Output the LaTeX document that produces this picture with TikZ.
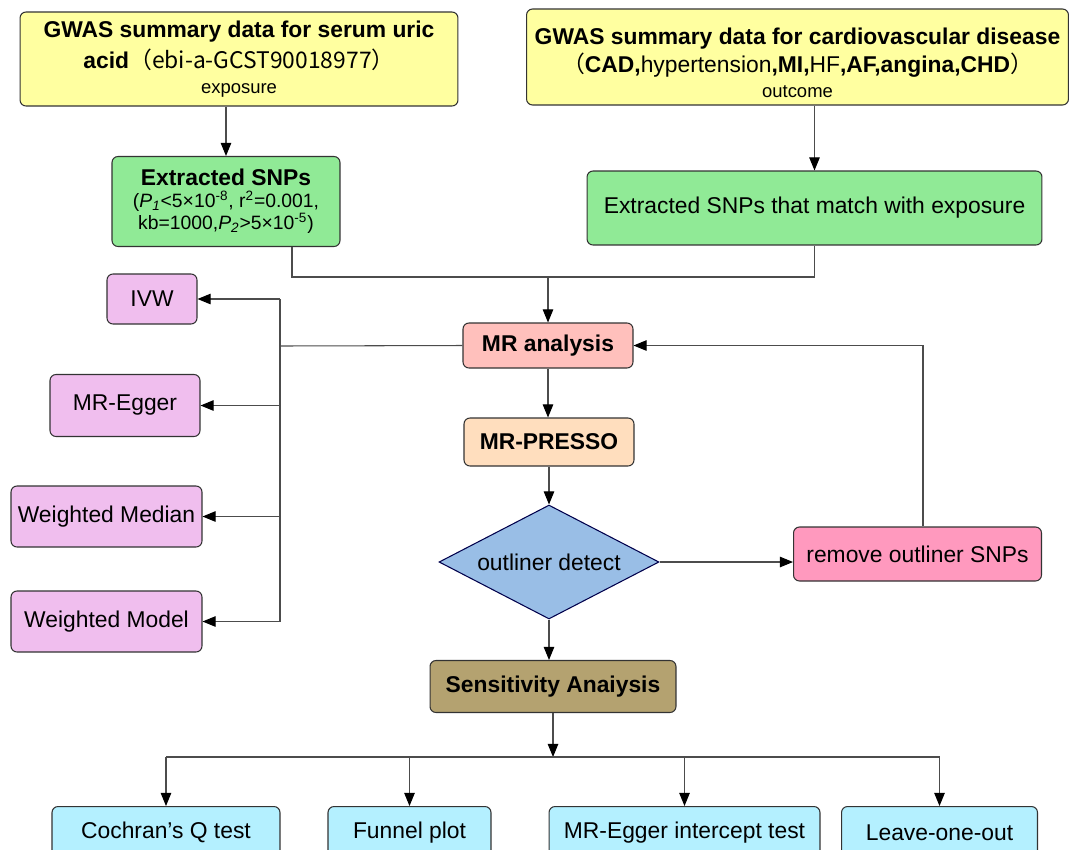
\documentclass[tikz,border=0pt]{standalone}
\usepackage{fontspec}
\setmainfont{Liberation Sans}
\newfontfamily\cjk{Noto Sans CJK SC}
\usetikzlibrary{arrows.meta, shapes.geometric}

\definecolor{gwasyellow}{RGB}{255,255,160}
\definecolor{snpgreen}{RGB}{144,234,150}
\definecolor{mrred}{RGB}{255,192,188}
\definecolor{pressoorange}{RGB}{255,222,190}
\definecolor{detectblue}{RGB}{153,190,230}
\definecolor{removepink}{RGB}{255,153,190}
\definecolor{sensbrown}{RGB}{180,162,112}
\definecolor{methodviolet}{RGB}{240,190,238}
\definecolor{testcyan}{RGB}{180,240,255}

\begin{document}
\begin{tikzpicture}[x=0.02cm, y=-0.02cm,
    box/.style={draw=black!80, line width=0.6pt, rounded corners=3.4pt, align=center,
        inner sep=2pt, font=\fontsize{13}{17.5}\selectfont},
    link/.style={draw=black!70, line width=0.6pt},
    arr/.style={link, -{Triangle[length=7.5pt, width=6pt, color=black]}}]

    % Frame of the picture
    \clip (0,0) rectangle (1071,849);
    \fill[white] (0,0) rectangle (1071,849);

    % The two GWAS sources
    \node[box, fill=gwasyellow, minimum width=8.76cm, minimum height=1.88cm] (gwasexp) at (239,59)
        {\textbf{GWAS summary data for serum uric}\\
         \textbf{acid}{\cjk （ebi-a-GCST90018977）}\\[-3pt]
         {\fontsize{10.5}{12}\selectfont exposure}};
    \node[box, fill=gwasyellow, minimum width=10.84cm, minimum height=1.92cm,
        font=\fontsize{13}{16}\selectfont] (gwasout) at (797.5,57)
        {\rule{0pt}{16pt}\textbf{GWAS summary data for cardiovascular disease}\\
         {\cjk （}\textbf{CAD,}hypertension\textbf{,MI,}HF\textbf{,AF,angina,CHD}{\cjk ）}\\[-2pt]
         {\fontsize{10.5}{12}\selectfont outcome}};

    % Extracted SNPs
    \node[box, fill=snpgreen, minimum width=4.56cm, minimum height=1.8cm,
        font=\fontsize{11}{12.5}\selectfont] (snpexp) at (226,201.5)
        {{\fontsize{13}{15}\selectfont\bfseries Extracted SNPs}\\
         (\textit{P}\textsubscript{\textit{1}}<5×10\textsuperscript{-8}, r\textsuperscript{2}=0.001,\\
         kb=1000,\textit{P}\textsubscript{\textit{2}}>5×10\textsuperscript{-5})};
    \node[box, fill=snpgreen, minimum width=9.1cm, minimum height=1.48cm] (snpout) at (814.5,208)
        {Extracted SNPs that match with exposure};

    \draw[arr] (gwasexp.south -| snpexp.north) -- (snpexp.north);
    \draw[arr] (gwasout.south -| snpout.north) -- (snpout.north);

    % MR analysis and MR-PRESSO
    \node[box, fill=mrred, minimum width=3.4cm, minimum height=0.9cm] (mr) at (548,345.5)
        {\textbf{MR analysis}};
    \node[box, fill=pressoorange, minimum width=3.4cm, minimum height=0.96cm] (presso) at (549,442)
        {\textbf{MR-PRESSO}};

    \coordinate (merge) at (548,277);
    \draw[link] ([xshift=1.32cm]snpexp.south) |- (merge) -| (snpout.south);
    \draw[arr] (merge) -- (mr.north);
    \draw[arr] (mr.south) -- (mr.south |- presso.north);

    % MR methods on the left
    \foreach \nm/\cx/\cy/\w/\h/\txt in {ivw/152/299/1.8/1.0/IVW,
            egger/125/405.5/3.0/1.24/MR-Egger,
            wmedian/106.5/516.5/3.82/1.22/Weighted Median,
            wmodel/106.5/621.5/3.82/1.22/Weighted Model}
        \node[box, fill=methodviolet, minimum width=\w cm, minimum height=\h cm] (\nm) at (\cx,\cy) {\txt};

    \coordinate (lbus) at (280,346);
    \draw[link] (mr.west) -- (lbus);
    \draw[link] (lbus |- ivw.east) -- (lbus |- wmodel.east);
    \foreach \nm in {ivw, egger, wmedian, wmodel}
        \draw[arr] (lbus |- \nm.east) -- (\nm.east);

    % Outlier check and loop back
    \node[diamond, aspect=1.95, draw=black!70!blue, line width=0.6pt, fill=detectblue, minimum width=4.4cm,
        minimum height=2.28cm, inner sep=0pt, font=\fontsize{13}{15}\selectfont] (detect) at (549,562)
        {outliner detect};
    \node[box, fill=removepink, minimum width=4.96cm, minimum height=1.08cm] (remove) at (917.5,554)
        {remove outliner SNPs};

    \draw[arr] (presso.south) -- (detect.north);
    \draw[arr] (detect.east) -- (detect.east -| remove.west);
    \draw[arr] ([xshift=0.11cm]remove.north) |- (mr.east);

    % Sensitivity analysis
    \node[box, fill=sensbrown, minimum width=4.92cm, minimum height=1.04cm] (sens) at (553,686.5)
        {\textbf{Sensitivity Anaiysis}};
    \draw[arr] (detect.south) -- (detect.south |- sens.north);

    \foreach \nm/\cx/\w/\txt in {cochran/166/4.56/Cochran’s Q test,
            funnel/409.5/3.26/Funnel plot,
            eggerint/684.5/5.42/MR-Egger intercept test,
            loo/939.5/3.92/Leave-one-out}
        \node[box, fill=testcyan, minimum width=\w cm, minimum height=1.04cm, anchor=north] (\nm) at (\cx,806) {\txt};

    \coordinate (sbus) at (553,757);
    \draw[arr] (sens.south) -- (sbus);
    \draw[link] (cochran.north |- sbus) -- (loo.north |- sbus);
    \foreach \nm in {cochran, funnel, eggerint, loo}
        \draw[arr] (\nm.north |- sbus) -- (\nm.north);
\end{tikzpicture}
\end{document}
